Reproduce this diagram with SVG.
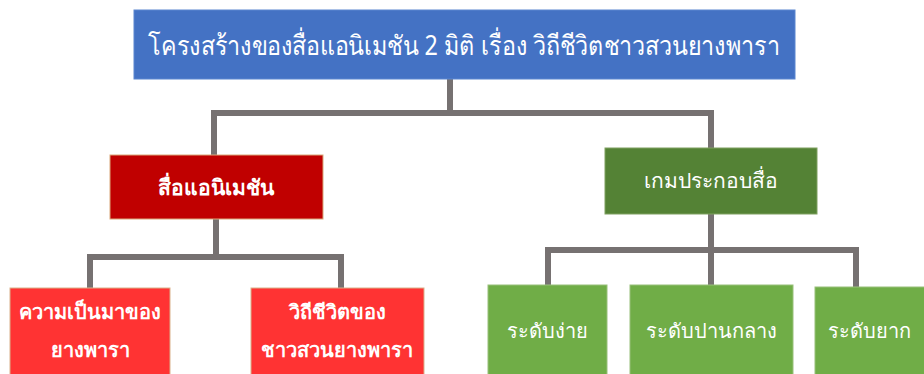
<svg xmlns="http://www.w3.org/2000/svg" width="924" height="374" viewBox="0 0 924 374">
<style>
text{font-family:"Noto Sans","DejaVu Sans",sans-serif;fill:#fff;text-anchor:middle}
.conn{fill:none;stroke:#767171;stroke-width:6;stroke-linejoin:miter;stroke-linecap:square}
.top{fill:#4472C4;stroke:#5B86D0;stroke-width:1}
.red{fill:#C00000;stroke:#D9A77A;stroke-width:1}
.lred{fill:#FF3333;stroke:#D9B28C;stroke-width:1}
.dg{fill:#548235;stroke:#7FA060;stroke-width:1}
.lg{fill:#70AD47;stroke:#98C07A;stroke-width:1}
</style>
<g id="connectors">
<path class="conn" d="M450 80 V113 M214 155 V113 H711 V148"/>
<path class="conn" d="M216 220 V257 M90 288 V257 H341 V288"/>
<path class="conn" d="M711 214 V285 M548 285 V250 H856 V287"/>
</g>
<g id="n-top"><rect class="top" x="134" y="10" width="661" height="69"/><text x="464" y="55" font-size="27" textLength="632" lengthAdjust="spacingAndGlyphs">โครงสร้างของสื่อแอนิเมชัน 2 มิติ เรื่อง วิถีชีวิตชาวสวนยางพารา</text></g>
<g id="n-anim"><rect class="red" x="110" y="155" width="213" height="64"/><text x="216" y="195" font-size="21" font-weight="bold">สื่อแอนิเมชัน</text></g>
<g id="n-game"><rect class="dg" x="605" y="148" width="212" height="66"/><text x="711" y="188" font-size="21">เกมประกอบสื่อ</text></g>
<g id="n-hist"><rect class="lred" x="10" y="288" width="160" height="100"/><text x="90" y="319" font-size="20" font-weight="bold">ความเป็นมาของ</text><text x="90" y="357" font-size="20" font-weight="bold">ยางพารา</text></g>
<g id="n-life"><rect class="lred" x="251" y="288" width="173" height="100"/><text x="337" y="319" font-size="20" font-weight="bold">วิถีชีวิตของ</text><text x="337" y="357" font-size="20" font-weight="bold">ชาวสวนยางพารา</text></g>
<g id="n-easy"><rect class="lg" x="488" y="285" width="119" height="100"/><text x="547" y="338" font-size="20">ระดับง่าย</text></g>
<g id="n-mid"><rect class="lg" x="630" y="285" width="163" height="100"/><text x="711" y="338" font-size="20">ระดับปานกลาง</text></g>
<g id="n-hard"><rect class="lg" x="815" y="287" width="115" height="100"/><text x="869" y="338" font-size="20">ระดับยาก</text></g>
</svg>
